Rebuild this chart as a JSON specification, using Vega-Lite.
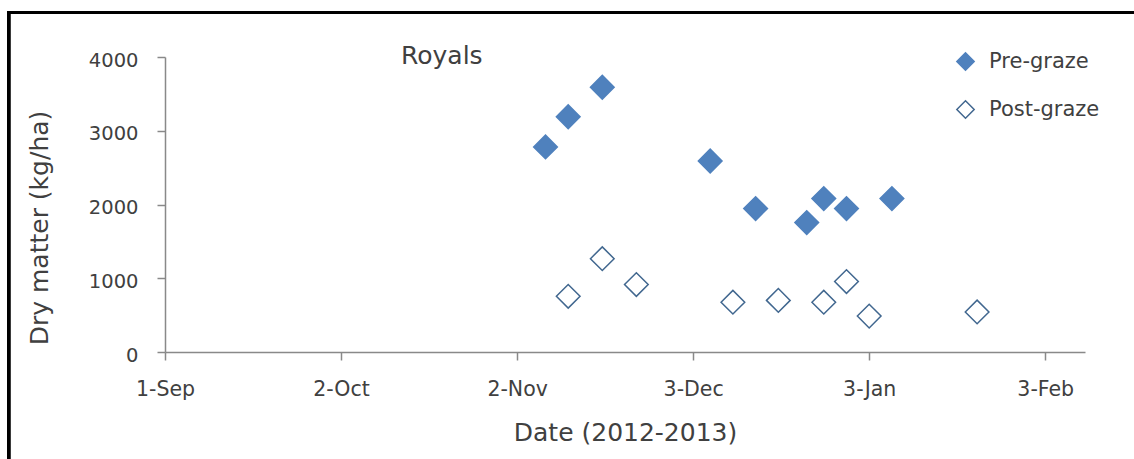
{
  "$schema": "https://vega.github.io/schema/vega-lite/v6.json",
  "autosize": {"type": "none"},
  "width": 920,
  "height": 295,
  "padding": {"left": 165, "top": 57, "right": 49, "bottom": 107},
  "background": "#ffffff",
  "config": {
    "view": {"stroke": null},
    "font": "DejaVu Sans"
  },
  "title": {
    "text": "Royals",
    "anchor": "start",
    "frame": "group",
    "dx": 236,
    "offset": -78,
    "baseline": "alphabetic",
    "font": "DejaVu Sans",
    "fontSize": 25,
    "fontWeight": "normal",
    "color": "#404040"
  },
  "data": {
    "values": [
      {"date": "2012-11-07", "series": "Pre-graze", "dm": 2780},
      {"date": "2012-11-11", "series": "Pre-graze", "dm": 3190},
      {"date": "2012-11-17", "series": "Pre-graze", "dm": 3590},
      {"date": "2012-12-06", "series": "Pre-graze", "dm": 2590},
      {"date": "2012-12-14", "series": "Pre-graze", "dm": 1945},
      {"date": "2012-12-23", "series": "Pre-graze", "dm": 1755},
      {"date": "2012-12-26", "series": "Pre-graze", "dm": 2080},
      {"date": "2012-12-30", "series": "Pre-graze", "dm": 1945},
      {"date": "2013-01-07", "series": "Pre-graze", "dm": 2080},
      {"date": "2012-11-11", "series": "Post-graze", "dm": 755},
      {"date": "2012-11-17", "series": "Post-graze", "dm": 1265},
      {"date": "2012-11-23", "series": "Post-graze", "dm": 915},
      {"date": "2012-12-10", "series": "Post-graze", "dm": 675},
      {"date": "2012-12-18", "series": "Post-graze", "dm": 700},
      {"date": "2012-12-26", "series": "Post-graze", "dm": 675},
      {"date": "2012-12-30", "series": "Post-graze", "dm": 955},
      {"date": "2013-01-03", "series": "Post-graze", "dm": 487},
      {"date": "2013-01-22", "series": "Post-graze", "dm": 543}
    ]
  },
  "resolve": {"axis": {"x": "independent", "y": "independent"}},
  "layer": [
    {
      "mark": {"type": "point", "shape": "diamond", "filled": true, "size": 560, "strokeWidth": 1.5, "opacity": 1},
      "encoding": {
        "x": {
          "field": "date",
          "type": "temporal",
          "scale": {
            "type": "utc",
            "nice": false,
            "domain": [
              {"year": 2012, "month": 9, "date": 1, "utc": true},
              {"year": 2013, "month": 2, "date": 10, "utc": true}
            ]
          },
          "axis": {
            "values": [
              {"year": 2012, "month": 9, "date": 1, "utc": true},
              {"year": 2012, "month": 10, "date": 2, "utc": true},
              {"year": 2012, "month": 11, "date": 2, "utc": true},
              {"year": 2012, "month": 12, "date": 3, "utc": true},
              {"year": 2013, "month": 1, "date": 3, "utc": true},
              {"year": 2013, "month": 2, "date": 3, "utc": true}
            ],
            "format": "%-d-%b",
            "title": "Date (2012-2013)",
            "titleFont": "DejaVu Sans",
            "titleFontSize": 25,
            "titleFontWeight": "normal",
            "titleColor": "#404040",
            "titleY": 68,
            "labelFont": "DejaVu Sans",
            "labelFontSize": 20.5,
            "labelColor": "#404040",
            "labelPadding": 19,
            "labelFlush": false,
            "labelOverlap": false,
            "tickSize": 8,
            "tickColor": "#898989",
            "tickWidth": 1.5,
            "domainColor": "#898989",
            "domainWidth": 1.5,
            "grid": false
          }
        },
        "y": {
          "field": "dm",
          "type": "quantitative",
          "scale": {"domain": [0, 4000], "nice": false},
          "axis": {
            "values": [0, 1000, 2000, 3000, 4000],
            "format": "d",
            "title": "Dry matter (kg/ha)",
            "titleFont": "DejaVu Sans",
            "titleFontSize": 25,
            "titleFontWeight": "normal",
            "titleColor": "#404040",
            "titleX": -112.7,
            "titleY": 170.5,
            "labelFont": "DejaVu Sans",
            "labelFontSize": 19.5,
            "labelColor": "#404040",
            "labelPadding": 19,
            "labelOffset": 3,
            "tickSize": 8,
            "tickColor": "#898989",
            "tickWidth": 1.5,
            "domainColor": "#898989",
            "domainWidth": 1.5,
            "grid": false
          }
        },
        "fill": {
          "field": "series",
          "type": "nominal",
          "scale": {"domain": ["Pre-graze", "Post-graze"], "range": ["#4F81BD", "#FFFFFF"]},
          "legend": {
            "title": null,
            "orient": "none",
            "legendX": 790,
            "legendY": -6,
            "padding": 0,
            "rowPadding": 23,
            "labelFont": "DejaVu Sans",
            "labelFontSize": 21,
            "labelColor": "#404040",
            "labelOffset": 13,
            "symbolSize": 300,
            "symbolStrokeWidth": 1.5,
            "symbolOpacity": 1
          }
        },
        "stroke": {
          "field": "series",
          "type": "nominal",
          "scale": {"domain": ["Pre-graze", "Post-graze"], "range": ["#4F81BD", "#41678F"]},
          "legend": {
            "title": null,
            "orient": "none",
            "legendX": 790,
            "legendY": -6,
            "padding": 0,
            "rowPadding": 23,
            "labelFont": "DejaVu Sans",
            "labelFontSize": 21,
            "labelColor": "#404040",
            "labelOffset": 13,
            "symbolSize": 300,
            "symbolStrokeWidth": 1.5,
            "symbolOpacity": 1
          }
        }
      }
    },
    {
      "mark": {"type": "rule", "color": "#000000", "strokeWidth": 2.5, "clip": false},
      "encoding": {
        "x": {"datum": {"year": 2012, "month": 8, "date": 4, "hours": 12, "utc": true}, "type": "temporal", "axis": null},
        "y": {"datum": 4603, "type": "quantitative", "axis": null},
        "y2": {"datum": -1500}
      }
    },
    {
      "mark": {"type": "rect", "color": "#000000", "filled": true, "clip": false},
      "encoding": {
        "x": {"datum": {"year": 2012, "month": 8, "date": 4, "hours": 6, "utc": true}, "type": "temporal", "axis": null},
        "x2": {"datum": {"year": 2013, "month": 2, "date": 18, "hours": 12, "utc": true}},
        "y": {"datum": 4620, "type": "quantitative", "axis": null},
        "y2": {"datum": 4586}
      }
    }
  ]
}
